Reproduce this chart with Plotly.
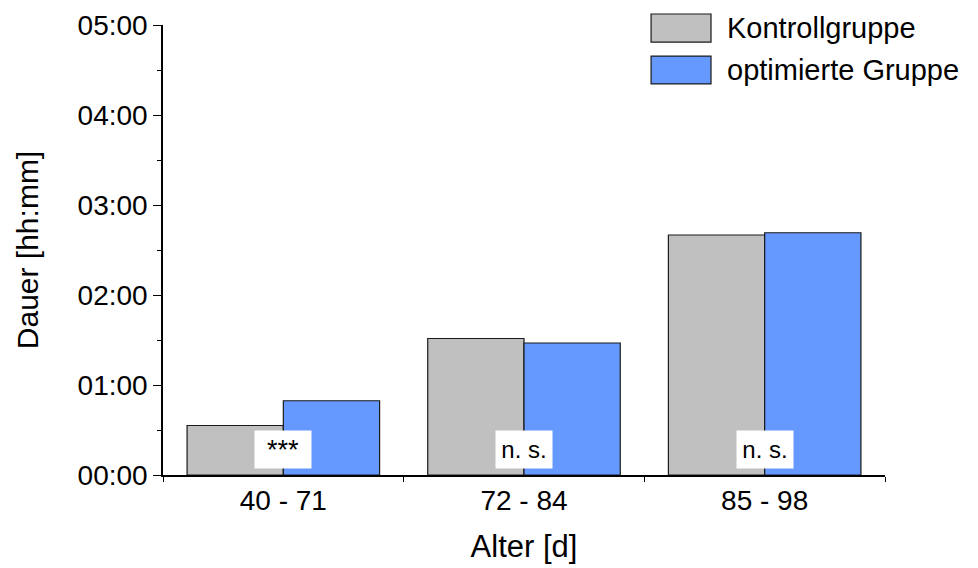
import plotly.graph_objects as go

categories = ["40 - 71", "72 - 84", "85 - 98"]
kontroll = [33, 91, 160]
optimiert = [49.5, 88, 161.5]
signif = ["***", "n. s.", "n. s."]
series_names = ["Kontrollgruppe", "optimierte Gruppe"]
series_colors = ["#C0C0C0", "#6699FF"]
ytick_vals = [0, 60, 120, 180, 240, 300]
ytick_text = ["00:00", "01:00", "02:00", "03:00", "04:00", "05:00"]

FONT = "Liberation Sans, Arial, sans-serif"

fig = go.Figure()
for name, vals, col in zip(series_names, [kontroll, optimiert], series_colors):
    fig.add_trace(go.Bar(
        x=categories, y=vals, name=name,
        marker=dict(color=col, line=dict(color="#1a1a1a", width=1.2)),
        showlegend=False,
    ))

for cat, txt in zip(categories, signif):
    fig.add_annotation(
        x=cat, y=16.7, xref="x", yref="y", text=txt, showarrow=False,
        bgcolor="white", width=54, height=35,
        font=dict(family=FONT, size=27 if txt == "***" else 24, color="black"),
    )

# legend drawn as boxes + labels
box_y = [(1.0244, 0.962), (0.931, 0.869)]
for (y0, y1), name, col in zip(box_y, series_names, series_colors):
    fig.add_shape(type="rect", xref="paper", yref="paper",
                  x0=0.676, x1=0.759, y0=y1, y1=y0,
                  fillcolor=col, line=dict(color="#1a1a1a", width=1.2))
    fig.add_annotation(xref="paper", yref="paper", x=0.779, y=(y0 + y1) / 2,
                       xanchor="left", yanchor="middle", text=name, showarrow=False,
                       font=dict(family=FONT, size=29, color="black"))

fig.update_layout(
    width=978, height=568,
    margin=dict(l=163, r=93, t=25, b=93),
    paper_bgcolor="white", plot_bgcolor="white",
    barmode="group", bargap=0.2, bargroupgap=0,
    font=dict(family=FONT, color="black"),
    xaxis=dict(
        type="category", range=[-0.5, 2.5], tickson="boundaries", automargin=False,
        ticks="outside", ticklen=5, tickwidth=1.2, tickcolor="black",
        showline=True, linecolor="black", linewidth=1.5,
        tickfont=dict(size=28), showgrid=False, zeroline=False,
        title=dict(text="Alter [d]", font=dict(size=31), standoff=20),
    ),
    yaxis=dict(
        range=[0, 300], tickvals=ytick_vals, ticktext=ytick_text, automargin=False,
        ticks="outside", ticklen=8, tickwidth=1.2, tickcolor="black",
        minor=dict(dtick=30, tick0=0, ticks="outside", ticklen=4, tickcolor="black", tickwidth=1.2),
        showline=True, linecolor="black", linewidth=1.5,
        tickfont=dict(size=28), showgrid=False, zeroline=False,
        title=dict(text="Dauer [hh:mm]", font=dict(size=30), standoff=30),
    ),
)

fig.write_html("out.html")
